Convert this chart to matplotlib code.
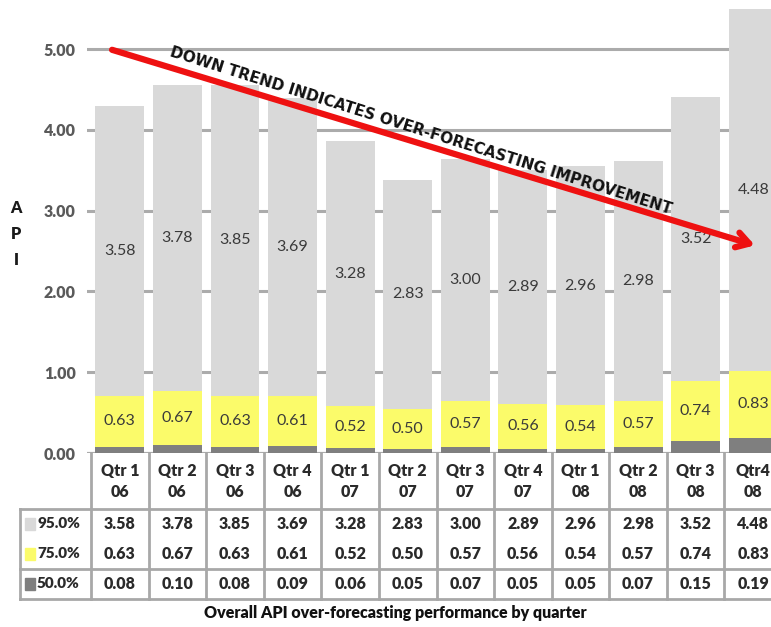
import matplotlib
matplotlib.use("Agg")
import matplotlib.pyplot as plt
import matplotlib.transforms as mtransforms
from matplotlib.patches import Rectangle

# ---- data ----
categories = ["Qtr 1\n06", "Qtr 2\n06", "Qtr 3\n06", "Qtr 4\n06",
              "Qtr 1\n07", "Qtr 2\n07", "Qtr 3\n07", "Qtr 4\n07",
              "Qtr 1\n08", "Qtr 2\n08", "Qtr 3\n08", "Qtr4\n08"]
p50 = [0.08, 0.10, 0.08, 0.09, 0.06, 0.05, 0.07, 0.05, 0.05, 0.07, 0.15, 0.19]
p75 = [0.63, 0.67, 0.63, 0.61, 0.52, 0.50, 0.57, 0.56, 0.54, 0.57, 0.74, 0.83]
p95 = [3.58, 3.78, 3.85, 3.69, 3.28, 2.83, 3.00, 2.89, 2.96, 2.98, 3.52, 4.48]
series_names = ["95.0%", "75.0%", "50.0%"]
yticks = [0, 1, 2, 3, 4, 5]

c95 = "#D9D9D9"
c75 = "#FBFB6A"
c50 = "#7F7F7F"
grid_c = "#ABABAB"

W, H = 771, 627
fig = plt.figure(figsize=(W / 100, H / 100), dpi=100)
fig.patch.set_facecolor("white")

# axes: left px 87, right px 782, top px 0, bottom px 453
ax = fig.add_axes([87 / W, (H - 453) / H, (782 - 87) / W, 453 / H])
ax.set_xlim(-0.57, 11.5)
ax.set_ylim(0, 453 / 80.8)

x = list(range(len(categories)))
bw = 0.85
b75 = p50
b95 = [a + b for a, b in zip(p50, p75)]
ax.bar(x, p50, bw, color=c50, zorder=2)
ax.bar(x, p75, bw, bottom=b75, color=c75, zorder=2)
ax.bar(x, p95, bw, bottom=b95, color=c95, zorder=2)

for i in x:
    ax.text(i, b75[i] + p75[i] / 2, f"{p75[i]:.2f}", ha="center", va="center",
            fontsize=11.5, color="#3A3A3A", family="Lato", zorder=3)
    ax.text(i, b95[i] + p95[i] / 2, f"{p95[i]:.2f}", ha="center", va="center",
            fontsize=11.5, color="#3A3A3A", family="Lato", zorder=3)

ax.set_yticks(yticks)
ax.set_yticklabels([f"{v:.2f}" for v in yticks], fontsize=11.5, fontweight="heavy",
                   color="#5A5A5A", family="Lato")
ax.yaxis.grid(True, color=grid_c, lw=2.2, zorder=0)
ax.tick_params(axis="y", length=0, pad=8)
ax.set_xticks([])
for s in ax.spines.values():
    s.set_visible(False)
ax.axhline(0, color="#A0A0A0", lw=1.5, zorder=1)

# y label stacked
for ch, py in zip(["A", "P", "I"], [208, 234, 260]):
    fig.text(16 / W, 1 - py / H, ch, ha="center", va="center", fontsize=11.5,
             fontweight="heavy", color="#1A1A1A", family="Lato")

# trend arrow + text
ax.annotate("", xy=(11.03, 2.57), xytext=(-0.135, 4.99),
            arrowprops=dict(arrowstyle="->, head_length=0.9, head_width=0.55",
                            color="#EE1111", lw=4.5, shrinkA=0, shrinkB=0),
            zorder=5)
ax.text(5.23, 3.99, "DOWN TREND INDICATES OVER-FORECASTING IMPROVEMENT",
        rotation=-17.5, rotation_mode="anchor", ha="center", va="center",
        fontsize=11, fontweight="bold", color="#111111", zorder=6,
        family="DejaVu Sans")

# ---- table ----
trans = mtransforms.blended_transform_factory(ax.transData, fig.transFigure)
def fy(py):
    return 1 - py / H

line_c = "#A8A8A8"
tbl_left = -0.5 - (91 - 20) / 57.6
right = 11.5
y_axis, y_top, y_mid, y_bot = 453, 509, 569, 599
for py in (y_top, y_mid, y_bot):
    ax.plot([tbl_left, right], [fy(py), fy(py)], transform=trans, color=line_c,
            lw=2, clip_on=False)
ax.plot([tbl_left, tbl_left], [fy(y_top), fy(y_bot)], transform=trans,
        color=line_c, lw=2, clip_on=False)
for i in range(len(categories) + 1):
    xb = i - 0.5
    ax.plot([xb, xb], [fy(y_axis), fy(y_bot)], transform=trans, color=line_c,
            lw=2, clip_on=False)

tcol = "#2A2A2A"
tf = dict(family="Lato", fontweight="heavy", color=tcol, fontsize=11.5,
          ha="center", va="center", transform=trans)
for i, lab in enumerate(categories):
    l1, l2 = lab.split("\n")
    ax.text(i, fy(471), l1, **tf)
    ax.text(i, fy(492), l2, **tf)
    ax.text(i, fy(524), f"{p95[i]:.2f}", **tf)
    ax.text(i, fy(554), f"{p75[i]:.2f}", **tf)
    ax.text(i, fy(584), f"{p50[i]:.2f}", **tf)

for name, col, py in zip(series_names, [c95, c75, c50], [524, 554, 584]):
    fig.patches.append(Rectangle((25 / W, fy(py + 6)), 10 / W, 12 / H,
                                 transform=fig.transFigure, color=col))
    fig.text(37 / W, fy(py), name, ha="left", va="center", fontsize=11,
             fontweight="heavy", color=tcol, family="Lato")

fig.text(395 / W, fy(613), "Overall API over-forecasting performance by quarter",
         ha="center", va="center", fontsize=11.5, fontweight="heavy",
         color="#111111", family="Lato")

fig.savefig("out.png", dpi=100)
